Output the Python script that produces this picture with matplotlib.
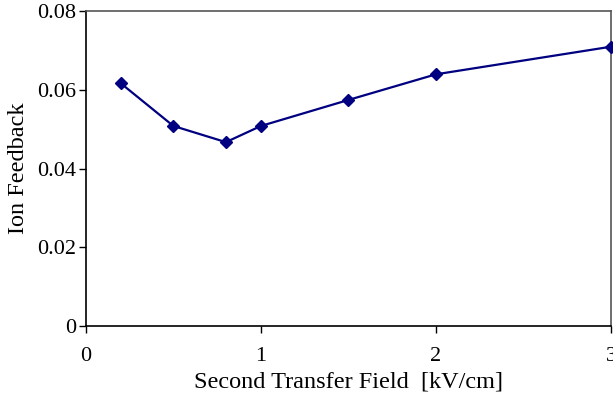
import matplotlib
matplotlib.use("Agg")
import matplotlib.pyplot as plt

field = [0.2, 0.5, 0.8, 1.0, 1.5, 2.0, 3.0]
ion_feedback = [0.0616, 0.0508, 0.0467, 0.0508, 0.0574, 0.0639, 0.0709]
xticks = [0, 1, 2, 3]
yticks = [0, 0.02, 0.04, 0.06, 0.08]
yticklabels = ["0", "0.02", "0.04", "0.06", "0.08"]

plt.rcParams['font.family'] = ['Liberation Serif', 'DejaVu Serif']

fig = plt.figure(figsize=(6.13, 3.99), dpi=100)
ax = fig.add_axes([0.140, 0.182, 0.857, 0.791])
ax.plot(field, ion_feedback, color='#000080', lw=1.6, marker='D', ms=6.5,
        clip_on=False, zorder=3)
ax.set_xlim(0, 3)
ax.set_ylim(0, 0.08)
ax.set_xticks(xticks)
ax.set_xticklabels([str(t) for t in xticks])
ax.set_yticks(yticks)
ax.set_yticklabels(yticklabels)
ax.tick_params(axis='both', labelsize=16, length=5, width=1, direction='out', colors='black')
ax.tick_params(axis='x', pad=10)
ax.tick_params(axis='y', pad=2)
ax.set_xlabel('Second Transfer Field  [kV/cm]', fontsize=17.5, labelpad=4)
ax.set_ylabel('Ion Feedback', fontsize=17.5, labelpad=6)
for s in ['left', 'bottom']:
    ax.spines[s].set_color('black')
    ax.spines[s].set_linewidth(1.2)
for s in ['top', 'right']:
    ax.spines[s].set_color('#555555')
    ax.spines[s].set_linewidth(1.2)
fig.savefig('out.png', dpi=100)
